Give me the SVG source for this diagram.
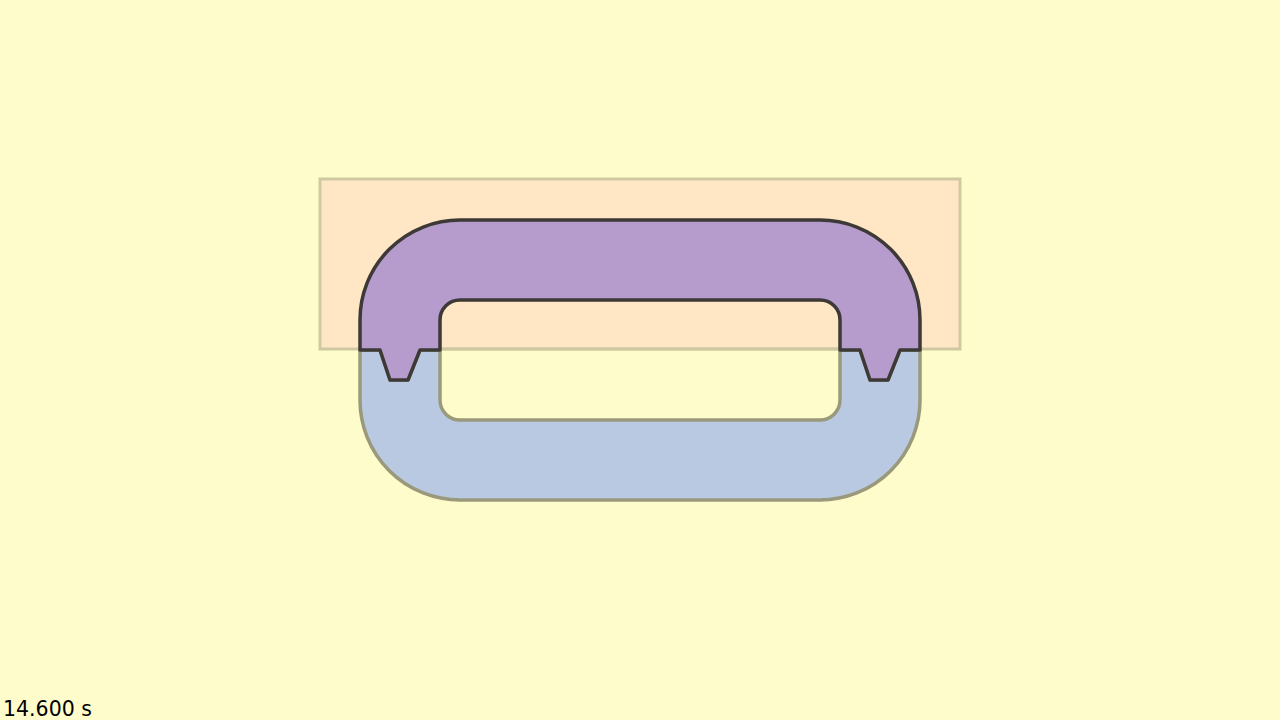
<svg xmlns="http://www.w3.org/2000/svg" width="1280" height="720" viewBox="0 0 1280 720">
<style>
.bg{fill:#fffccc}
.plate{fill:#ffe6c4;stroke:#cfc9a1;stroke-width:3}
.lower{fill:#b9c9e1;stroke:#9a997c;stroke-width:3.5;stroke-linejoin:round}
.upper{fill:#b59ccc;stroke:#3d3936;stroke-width:3.5;stroke-linejoin:round}
.t{font-family:"DejaVu Sans",sans-serif;font-size:20.5px;fill:#000}
</style>
<rect class="bg" x="0" y="0" width="1280" height="720"/>
<g id="plate"><rect class="plate" x="320" y="179" width="640" height="170"/></g>
<g id="lower">
<path class="lower" d="M360,350 L380,350 L390,380 L408,380 L420,350 L440,350 L440,400 A20,20 0 0 0 460,420 L820,420 A20,20 0 0 0 840,400 L840,350 L860,350 L870,380 L888,380 L900,350 L920,350 L920,400 A100,100 0 0 1 820,500 L460,500 A100,100 0 0 1 360,400 Z"/>
</g>
<g id="plate-edge"><line x1="440" y1="349" x2="840" y2="349" stroke="#cfc9a1" stroke-width="3"/></g>
<g id="upper">
<path class="upper" d="M360,350 L380,350 L390,380 L408,380 L420,350 L440,350 L440,320 A20,20 0 0 1 460,300 L820,300 A20,20 0 0 1 840,320 L840,350 L860,350 L870,380 L888,380 L900,350 L920,350 L920,320 A100,100 0 0 0 820,220 L460,220 A100,100 0 0 0 360,320 Z"/>
</g>
<g id="time"><text class="t" x="3" y="716">14.600 s</text></g>
</svg>
